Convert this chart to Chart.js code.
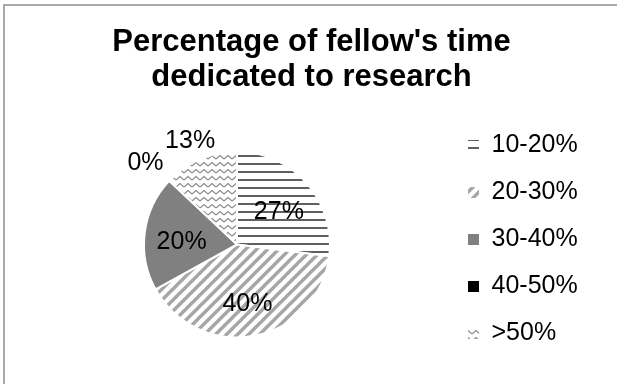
<!DOCTYPE html>
<html>
<head>
<meta charset="utf-8">
<script src="https://cdn.jsdelivr.net/npm/chart.js@4/dist/chart.umd.min.js"></script>
<style>
  html, body { margin: 0; padding: 0; background: #fff; }
  #wrap { width: 617px; height: 384px; }
</style>
</head>
<body>
<div id="wrap"><canvas id="cnvs_pie"></canvas></div>
<script>
const titleLines = ["Percentage of fellow's time", 'dedicated to research'];
const categories = ['10-20%', '20-30%', '30-40%', '40-50%', '>50%'];
const shares = [27, 40, 20, 0, 13];

const FONT = '"Liberation Sans", Arial, sans-serif';

// small tiled fills, one per slice
function makeTile(w, h, paint) {
  const c = document.createElement('canvas');
  c.width = w; c.height = h;
  paint(c.getContext('2d'), w, h);
  return document.createElement('canvas').getContext('2d').createPattern(c, 'repeat');
}

const hLines = makeTile(8, 8, function(g, w) {
  g.fillStyle = '#fff'; g.fillRect(0, 0, w, 8);
  g.fillStyle = '#5f5f5f'; g.fillRect(0, 3, w, 2);
});
const diagStripes = makeTile(11, 11, function(g, w, h) {
  g.fillStyle = '#fff'; g.fillRect(0, 0, w, h);
  g.strokeStyle = '#a6a6a6'; g.lineWidth = 3.4;
  g.beginPath();
  g.moveTo(-2, h + 2); g.lineTo(w + 2, -2);
  g.moveTo(-2, 2); g.lineTo(2, -2);
  g.moveTo(w - 2, h + 2); g.lineTo(w + 2, h - 2);
  g.stroke();
});
const zigzag = makeTile(8, 7, function(g, w, h) {
  g.fillStyle = '#fff'; g.fillRect(0, 0, w, h);
  g.strokeStyle = '#8a8a8a'; g.lineWidth = 1.2;
  g.beginPath();
  g.moveTo(0, 5); g.lineTo(4, 1.5); g.lineTo(8, 5);
  g.stroke();
});

const fills = [hLines, diagStripes, '#808080', '#000000', zigzag];

// frame lines along the top and left edge
const framePlugin = {
  id: 'frame',
  beforeDraw(chart) {
    const ctx = chart.ctx;
    ctx.save();
    ctx.fillStyle = '#fff';
    ctx.fillRect(0, 0, chart.width, chart.height);
    ctx.fillStyle = '#a9a9a9';
    ctx.fillRect(3, 4, chart.width - 3, 2);
    ctx.fillRect(3, 4, 2, chart.height - 4);
    ctx.restore();
  }
};

// fixed legend width so the pie sits left of centre
const legendWidth = {
  id: 'legendWidth',
  beforeInit(chart) {
    const fit = chart.legend.fit;
    chart.legend.fit = function() {
      fit.call(this);
      this.width = 149;
    };
  }
};

// percent labels: inside big slices, outside small ones
const sliceLabels = {
  id: 'sliceLabels',
  afterDatasetsDraw(chart) {
    const ctx = chart.ctx;
    const meta = chart.getDatasetMeta(0);
    ctx.save();
    ctx.font = '25px ' + FONT;
    ctx.fillStyle = '#000';
    ctx.textAlign = 'center';
    ctx.textBaseline = 'middle';
    meta.data.forEach(function(arc, i) {
      const p = arc.getProps(['x', 'y', 'startAngle', 'endAngle', 'outerRadius'], true);
      const v = chart.data.datasets[0].data[i];
      const mid = (p.startAngle + p.endAngle) / 2;
      const k = v >= 15 ? 0.6 : (v > 0 ? 1.27 : 1.35);
      const r = p.outerRadius * k;
      ctx.fillText(v + '%', p.x + Math.cos(mid) * r, p.y + Math.sin(mid) * r + 5);
    });
    ctx.restore();
  }
};

const ctx = document.getElementById('cnvs_pie').getContext('2d');
new Chart(ctx, {
  type: 'pie',
  data: {
    labels: categories,
    datasets: [{
      data: shares,
      backgroundColor: fills,
      borderColor: '#ffffff',
      borderWidth: 2,
      radius: 93
    }]
  },
  options: {
    responsive: true,
    maintainAspectRatio: false,
    animation: false,
    events: [],
    layout: { padding: { left: 6, right: 0, top: 0, bottom: 28 } },
    plugins: {
      title: {
        display: true,
        text: titleLines,
        color: '#000',
        font: { family: FONT, size: 31, weight: 'bold', lineHeight: 35 / 31 },
        padding: { top: 25, bottom: 38 }
      },
      legend: {
        position: 'right',
        align: 'start',
        fullSize: false,
        labels: {
          color: '#000',
          font: { family: FONT, size: 25, lineHeight: 47 / 25 },
          boxWidth: 11,
          boxHeight: 11,
          padding: 0,
          generateLabels(chart) {
            return Chart.overrides.pie.plugins.legend.labels.generateLabels(chart).map(function(item) {
              item.text = [item.text];
              item.lineWidth = 0;
              item.hidden = false;
              return item;
            });
          }
        }
      },
      tooltip: { enabled: false }
    }
  },
  plugins: [framePlugin, legendWidth, sliceLabels]
});
</script>
</body>
</html>
